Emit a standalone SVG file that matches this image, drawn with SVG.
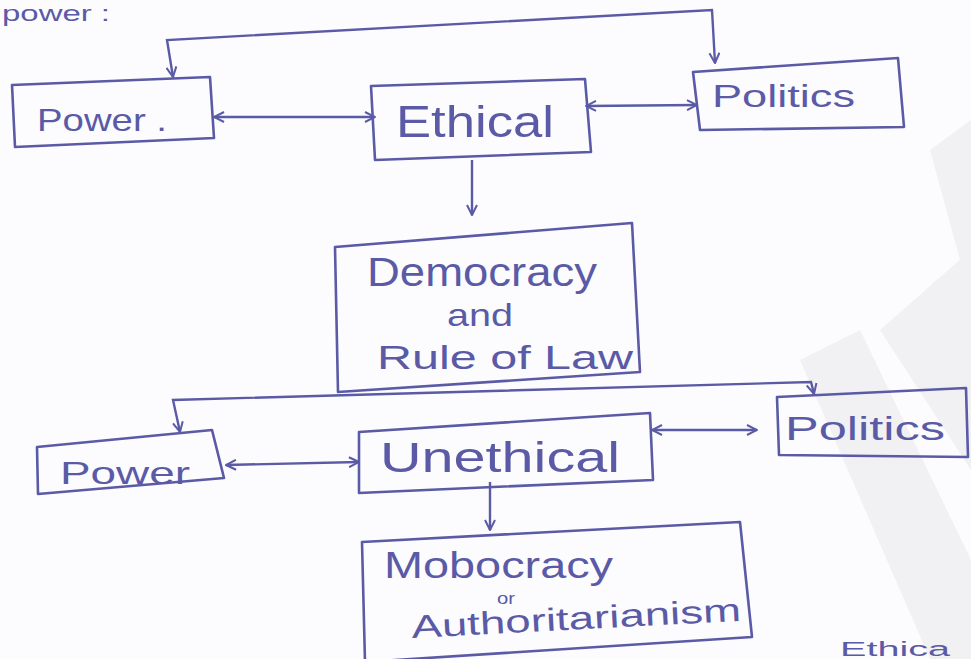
<svg xmlns="http://www.w3.org/2000/svg" width="971" height="659" viewBox="0 0 971 659">
<defs>
<marker id="ah" viewBox="0 0 12 12" refX="11" refY="6" markerWidth="12" markerHeight="12" markerUnits="userSpaceOnUse" orient="auto-start-reverse">
<path d="M1,1 L11,6 L1,11" fill="none" stroke="#5a5aa6" stroke-width="2"/>
</marker>
</defs>
<style>
.box{fill:none;stroke:#5a5aa6;stroke-width:2.6;stroke-linejoin:round}
.con{fill:none;stroke:#5a5aa6;stroke-width:2.4;marker-start:url(#ah);marker-end:url(#ah)}
.one{fill:none;stroke:#5a5aa6;stroke-width:2.4;marker-end:url(#ah)}
text{font-family:"Liberation Sans","DejaVu Sans",sans-serif;fill:#5a5aa6}
</style>
<rect width="971" height="659" fill="#fcfcfe"/>
<g id="watermark" fill="#f1f1f4">
<polygon points="930,150 971,120 971,330 960,260"/>
<polygon points="800,360 860,330 971,560 971,659 930,659"/>
<polygon points="880,330 971,250 971,470"/>
</g>
<text x="2" y="21" font-size="22" textLength="108" lengthAdjust="spacingAndGlyphs">power :</text>
<text x="840" y="656" font-size="20" textLength="110" lengthAdjust="spacingAndGlyphs">Ethica</text>
<g id="connectors">
<path class="con" d="M214,117 L375,117"/>
<path class="con" d="M586,106 L697,105"/>
<path class="con" d="M173,77 L167,40 L712,10 L715,63"/>
<path class="one" d="M472,160 L472,215"/>
<path class="con" d="M226,465 L359,462"/>
<path class="con" d="M652,430 L757,430"/>
<path class="con" d="M180,432 L173,400 L811,382 L814,394"/>
<path class="one" d="M490,482 L490,530"/>
</g>
<g id="power1">
<polygon class="box" points="12,85 210,77 214,138 15,147"/>
<text x="37" y="131" font-size="32" textLength="130" lengthAdjust="spacingAndGlyphs">Power .</text>
</g>
<g id="ethical">
<polygon class="box" points="371,86 585,79 591,152 375,160"/>
<text x="396" y="137" font-size="44" textLength="158" lengthAdjust="spacingAndGlyphs">Ethical</text>
</g>
<g id="politics1">
<polygon class="box" points="693,72 898,58 904,127 700,130"/>
<text x="712" y="107" font-size="32" textLength="143" lengthAdjust="spacingAndGlyphs">Politics</text>
</g>
<g id="democracy">
<polygon class="box" points="335,247 632,223 640,372 338,392"/>
<text x="367" y="286" font-size="40" textLength="230" lengthAdjust="spacingAndGlyphs">Democracy</text>
<text x="447" y="326" font-size="32" textLength="66" lengthAdjust="spacingAndGlyphs">and</text>
<text x="377" y="369" font-size="34" textLength="256" lengthAdjust="spacingAndGlyphs">Rule of Law</text>
</g>
<g id="power2">
<polygon class="box" points="37,447 212,430 224,478 38,494"/>
<text x="60" y="484" font-size="32" textLength="130" lengthAdjust="spacingAndGlyphs">Power</text>
</g>
<g id="unethical">
<polygon class="box" points="359,432 650,413 653,480 359,493"/>
<text x="380" y="472" font-size="42" textLength="240" lengthAdjust="spacingAndGlyphs">Unethical</text>
</g>
<g id="politics2">
<polygon class="box" points="777,397 966,388 968,457 779,455"/>
<text x="785" y="440" font-size="34" textLength="160" lengthAdjust="spacingAndGlyphs">Politics</text>
</g>
<g id="mobocracy">
<polygon class="box" points="362,542 740,522 752,637 365,662"/>
<text x="384" y="578" font-size="36" textLength="229" lengthAdjust="spacingAndGlyphs">Mobocracy</text>
<text x="497" y="604" font-size="16" textLength="18" lengthAdjust="spacingAndGlyphs">or</text>
<text x="412" y="638" font-size="32" textLength="330" lengthAdjust="spacingAndGlyphs" transform="rotate(-3 412 638)">Authoritarianism</text>
</g>
</svg>
